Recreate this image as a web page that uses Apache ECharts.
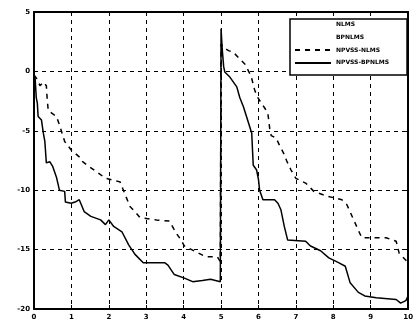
<!DOCTYPE html>
<html>
<head>
<meta charset="utf-8">
<script src="https://cdn.jsdelivr.net/npm/echarts@6/dist/echarts.min.js"></script>
<style>
  html, body { margin: 0; padding: 0; background: #fff; }
  #chart { width: 416px; height: 327px; }
</style>
</head>
<body>
<div id="chart"></div>
<script>
const seriesNames = ['NLMS', 'BPNLMS', 'NPVSS-NLMS', 'NPVSS-BPNLMS']

// NPVSS-NLMS (dashed), [time, misalignment dB]
const npvssNlms = [
  [0, -0.3], [0.07, -0.6], [0.16, -1.2], [0.25, -0.9], [0.33, -1.2], [0.35, -2.2],
  [0.38, -3.3], [0.6, -3.8], [0.68, -4.5], [0.82, -5.9], [0.99, -6.6], [1.25, -7.3],
  [1.3, -7.6], [1.47, -8.0], [1.74, -8.6], [1.91, -9.0], [2.3, -9.3], [2.44, -10.4],
  [2.57, -11.4], [2.7, -11.8], [2.83, -12.3], [3.27, -12.5], [3.62, -12.6], [3.8, -13.6],
  [3.93, -14.2], [4.02, -14.7], [4.59, -15.6], [4.9, -15.6], [4.98, -16.0],
  [5.0, 2.3], [5.07, 2.0], [5.2, 1.75], [5.33, 1.6], [5.64, 0.6], [5.77, -0.2],
  [5.82, -0.6], [5.9, -1.6], [6.0, -2.3], [6.17, -3.1], [6.25, -3.5], [6.3, -4.8],
  [6.34, -5.4], [6.47, -5.6], [6.56, -6.2], [6.69, -7.0], [6.75, -7.5], [6.87, -8.3],
  [7.0, -9.0], [7.26, -9.4], [7.48, -10.1], [7.83, -10.5], [8.1, -10.7], [8.23, -10.8],
  [8.36, -11.2], [8.76, -14.0], [9.02, -14.0], [9.41, -14.0], [9.68, -14.3],
  [9.76, -15.3], [9.85, -15.6], [10, -16.1]
]

// NPVSS-BPNLMS (solid)
const npvssBpnlms = [
  [0, -0.3], [0.03, -0.6], [0.06, -2.2], [0.09, -2.7], [0.11, -3.8], [0.2, -4.1],
  [0.25, -5.2], [0.29, -5.9], [0.33, -7.7], [0.42, -7.6], [0.5, -8.0], [0.6, -8.9],
  [0.68, -10.0], [0.82, -10.1], [0.84, -11.0], [0.99, -11.1], [1.1, -11.0], [1.21, -10.8],
  [1.34, -11.8], [1.52, -12.2], [1.78, -12.5], [1.91, -12.9], [2.0, -12.5], [2.13, -13.05],
  [2.35, -13.5], [2.53, -14.6], [2.7, -15.4], [2.92, -16.1], [3.2, -16.1], [3.49, -16.1],
  [3.58, -16.3], [3.75, -17.1], [4.02, -17.4], [4.24, -17.7], [4.5, -17.6], [4.72, -17.5],
  [4.98, -17.7], [5.0, 3.6], [5.03, 1.9], [5.07, 0.4], [5.1, -0.05], [5.24, -0.5],
  [5.42, -1.3], [5.5, -2.2], [5.6, -3.0], [5.68, -3.8], [5.77, -4.7], [5.82, -5.2],
  [5.84, -6.6], [5.86, -7.9], [5.95, -8.3], [6.0, -9.1], [6.03, -10.0], [6.12, -10.8],
  [6.43, -10.8], [6.52, -11.1], [6.6, -11.65], [6.69, -13.05], [6.78, -14.2], [7.26, -14.3],
  [7.39, -14.7], [7.66, -15.1], [7.88, -15.7], [8.14, -16.1], [8.32, -16.4], [8.45, -17.8],
  [8.67, -18.6], [8.84, -18.9], [9.15, -19.05], [9.68, -19.2], [9.8, -19.5], [9.94, -19.3],
  [10, -18.9]
]

const xTicks = { min: 0, max: 10, interval: 1 }
const yTicks = { min: -20, max: 5, interval: 5 }

const labelFont = { fontFamily: 'DejaVu Sans', fontSize: 7, fontWeight: 'bold', color: '#000' }
const boxLine = { show: true, onZero: false, lineStyle: { color: '#000', width: 2 } }
const tick = { show: true, inside: true, length: 4, lineStyle: { color: '#000', width: 1 } }
const grid = { show: true, lineStyle: { color: '#000', width: 1, type: [4, 4] } }
// hides the marker ECharts puts in the middle of a line legend icon
const noMarker = { color: 'transparent', borderColor: 'transparent', borderWidth: 0 }

const chart = echarts.init(document.getElementById('chart'))
chart.setOption({
  animation: false,
  backgroundColor: '#fff',
  grid: { left: 34, right: 2, top: 12, bottom: 18 },
  legend: {
    orient: 'vertical',
    left: 290,
    top: 19,
    data: seriesNames,
    backgroundColor: '#fff',
    borderColor: '#000',
    borderWidth: 1.5,
    padding: [2, 18, 9, 4],
    itemWidth: 36,
    itemHeight: 8,
    itemGap: 6.5,
    textStyle: { fontFamily: 'DejaVu Sans', fontSize: 6, fontWeight: 'bold', color: '#000' },
  },
  xAxis: [
    {
      type: 'value', position: 'bottom', ...xTicks,
      axisLine: boxLine, axisTick: tick,
      axisLabel: { ...labelFont, margin: 5 },
      splitLine: grid,
    },
    {
      type: 'value', position: 'top', ...xTicks,
      axisLine: boxLine, axisTick: tick,
      axisLabel: { show: false }, splitLine: { show: false },
    },
  ],
  yAxis: [
    {
      type: 'value', position: 'left', ...yTicks,
      axisLine: boxLine, axisTick: tick,
      axisLabel: { ...labelFont, margin: 4 },
      splitLine: grid,
    },
    {
      type: 'value', position: 'right', ...yTicks,
      axisLine: boxLine, axisTick: tick,
      axisLabel: { show: false }, splitLine: { show: false },
    },
  ],
  series: [
    { name: seriesNames[0], type: 'line', data: [], symbol: 'none', lineStyle: { color: 'transparent', width: 0 }, itemStyle: noMarker },
    { name: seriesNames[1], type: 'line', data: [], symbol: 'none', lineStyle: { color: 'transparent', width: 0 }, itemStyle: noMarker },
    {
      name: seriesNames[2], type: 'line', data: npvssNlms, symbol: 'none',
      lineStyle: { color: '#000', width: 1.5, type: [5, 5] }, itemStyle: noMarker,
    },
    {
      name: seriesNames[3], type: 'line', data: npvssBpnlms, symbol: 'none',
      lineStyle: { color: '#000', width: 1.5 }, itemStyle: noMarker,
    },
  ],
})
</script>
</body>
</html>
